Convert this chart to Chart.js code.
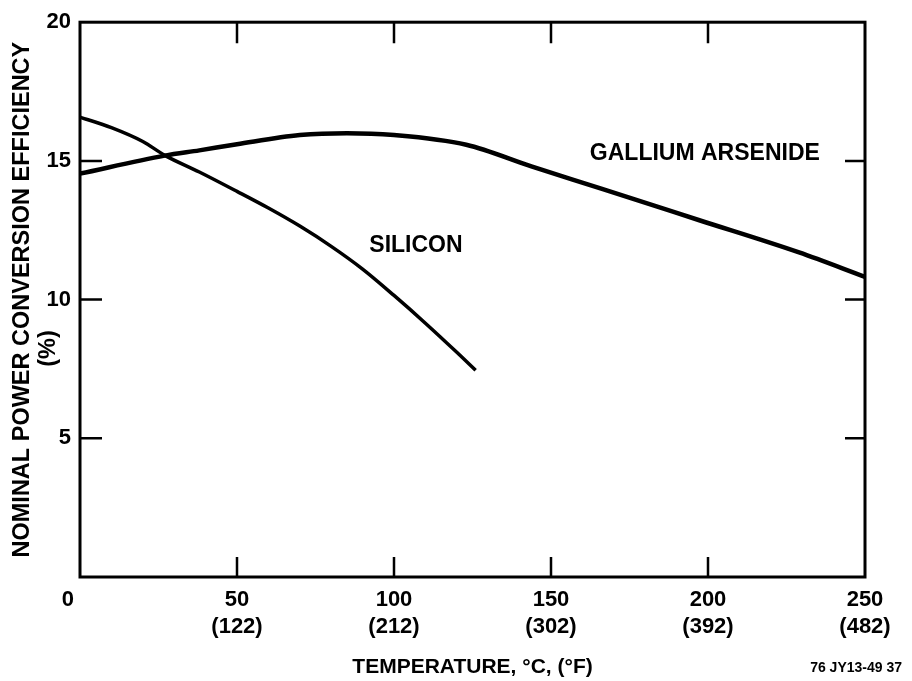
<!DOCTYPE html>
<html>
<head>
    <title>Nominal Power Conversion Efficiency</title>
    <script src="https://cdn.jsdelivr.net/npm/chart.js"></script>
    <style>
        body { margin: 0; background: #fff; }
        #effChart { display: block; }
    </style>
</head>
<body>
    <canvas id="effChart" width="912" height="681"></canvas>
    <script>
        // values
        const siliconTemp = [0, 10, 20, 27, 38, 50, 60, 70, 80, 90, 100, 110, 120, 126];
        const siliconEff = [16.58, 16.2, 15.7, 15.2, 14.6, 13.9, 13.3, 12.65, 11.92, 11.1, 10.15, 9.15, 8.1, 7.45];

        const gaasTemp = [0, 27, 38, 50, 70, 85, 100, 123, 144, 166, 197, 229, 250];
        const gaasEff = [14.54, 15.19, 15.38, 15.6, 15.93, 16.0, 15.93, 15.58, 14.79, 14.0, 12.87, 11.7, 10.82];

        const celsiusTicks = [0, 50, 100, 150, 200, 250];
        const fahrenheitTicks = ['', '(122)', '(212)', '(302)', '(392)', '(482)'];
        const effTicks = [5, 10, 15, 20];

        const curveNames = ['SILICON', 'GALLIUM ARSENIDE'];

        const FONT = "'Liberation Sans', Arial, Helvetica, sans-serif";

        // box round the plot and short inward tick marks
        const frame = {
            id: 'frame',
            afterDatasetsDraw(chart) {
                const { ctx, chartArea: a, scales } = chart;
                ctx.save();
                ctx.strokeStyle = '#000';
                ctx.lineWidth = 3;
                ctx.strokeRect(a.left, a.top, a.right - a.left, a.bottom - a.top);

                ctx.lineWidth = 2.5;
                ctx.beginPath();
                celsiusTicks.slice(1, -1).forEach(t => {
                    const x = scales.x.getPixelForValue(t);
                    ctx.moveTo(x, a.bottom); ctx.lineTo(x, a.bottom - 20);
                    ctx.moveTo(x, a.top); ctx.lineTo(x, a.top + 21);
                });
                effTicks.slice(0, -1).forEach(v => {
                    const y = scales.y.getPixelForValue(v);
                    ctx.moveTo(a.left, y); ctx.lineTo(a.left + 22, y);
                    ctx.moveTo(a.right, y); ctx.lineTo(a.right - 20, y);
                });
                ctx.stroke();

                // curve names, placed in data units
                ctx.fillStyle = '#000';
                ctx.font = 'bold 23px ' + FONT;
                ctx.textAlign = 'center';
                ctx.textBaseline = 'middle';
                ctx.fillText(curveNames[0], scales.x.getPixelForValue(107), scales.y.getPixelForValue(11.95));
                ctx.fillText(curveNames[1], scales.x.getPixelForValue(199), scales.y.getPixelForValue(15.25));

                ctx.font = 'bold 14px ' + FONT;
                ctx.textAlign = 'right';
                ctx.fillText('76 JY13-49 37', chart.width - 10, 668);
                ctx.restore();
            }
        };

        const ctx = document.getElementById('effChart').getContext('2d');
        const chart = new Chart(ctx, {
            type: 'scatter',
            data: {
                datasets: [{
                    label: 'Silicon',
                    data: siliconTemp.map((t, i) => ({ x: t, y: siliconEff[i] })),
                    showLine: true,
                    borderColor: '#000',
                    borderWidth: 3.5,
                    pointRadius: 0,
                    cubicInterpolationMode: 'monotone'
                }, {
                    label: 'Gallium Arsenide',
                    data: gaasTemp.map((t, i) => ({ x: t, y: gaasEff[i] })),
                    showLine: true,
                    borderColor: '#000',
                    borderWidth: 4.5,
                    pointRadius: 0,
                    cubicInterpolationMode: 'monotone'
                }]
            },
            options: {
                responsive: false,
                animation: false,
                layout: { padding: { top: 17, right: 47, left: 0, bottom: 0 } },
                plugins: {
                    legend: { display: false },
                    tooltip: { enabled: false }
                },
                scales: {
                    x: {
                        type: 'linear',
                        min: 0,
                        max: 250,
                        afterFit: s => { s.height = 104; },
                        afterBuildTicks: s => { s.ticks = celsiusTicks.map(v => ({ value: v })); },
                        grid: { display: false, drawTicks: false },
                        border: { display: false },
                        ticks: {
                            padding: 9,
                            maxRotation: 0,
                            color: '#000',
                            font: { family: FONT, size: 22, weight: 'bold', lineHeight: 1.25 },
                            callback: v => {
                                const i = celsiusTicks.indexOf(v);
                                return v === 0 ? '0    ' : [String(v), fahrenheitTicks[i]];
                            }
                        },
                        title: {
                            display: true,
                            text: 'TEMPERATURE, °C, (°F)',
                            color: '#000',
                            padding: 0,
                            font: { family: FONT, size: 21, weight: 'bold', lineHeight: 1.3 }
                        }
                    },
                    y: {
                        min: 0,
                        max: 20,
                        afterFit: s => { s.width = 80; },
                        afterBuildTicks: s => { s.ticks = effTicks.map(v => ({ value: v })); },
                        grid: { display: false, drawTicks: false },
                        border: { display: false },
                        ticks: {
                            padding: 9,
                            color: '#000',
                            font: { family: FONT, size: 22, weight: 'bold' }
                        },
                        title: {
                            display: true,
                            text: ['NOMINAL POWER CONVERSION EFFICIENCY', '(%)               '],
                            color: '#000',
                            padding: { top: 10, bottom: 0 },
                            font: { family: FONT, size: 23.5, weight: 'bold', lineHeight: 1.1 }
                        }
                    }
                }
            },
            plugins: [frame]
        });
    </script>
</body>
</html>
